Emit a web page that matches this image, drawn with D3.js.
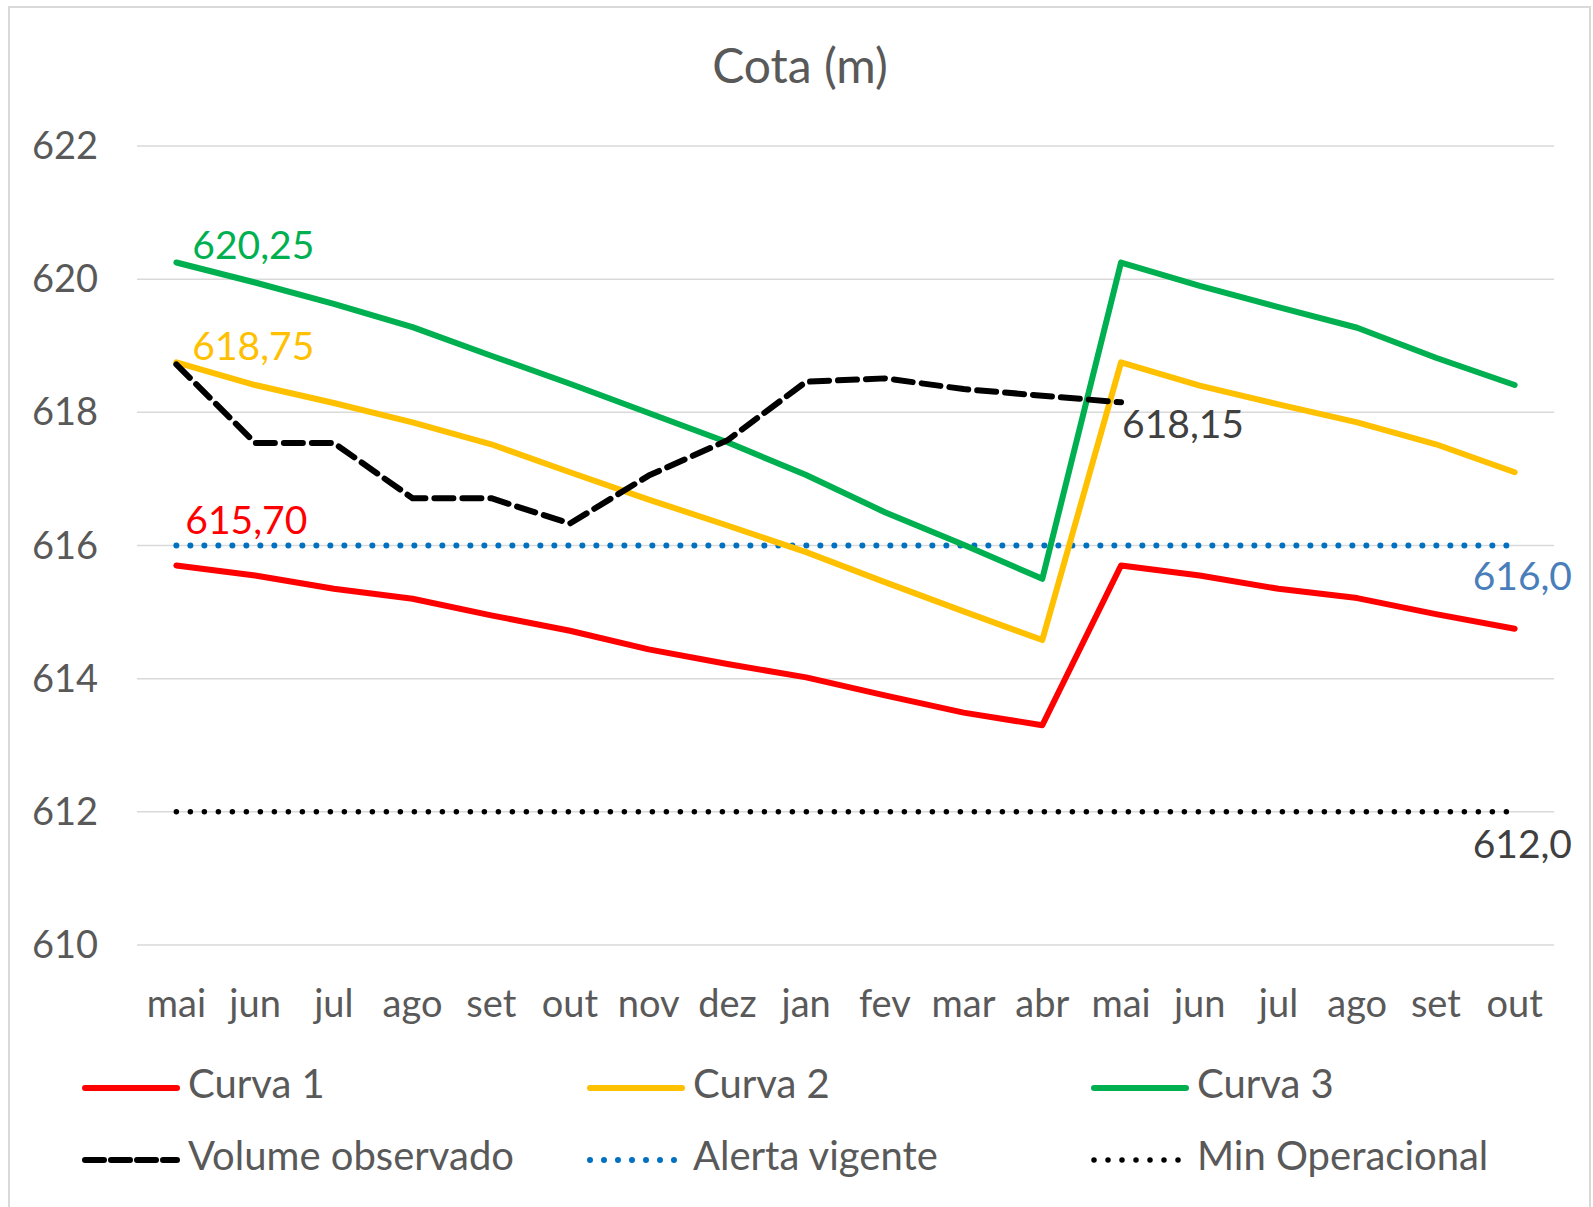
<!DOCTYPE html>
<html>
<head>
<meta charset="utf-8">
<script src="https://cdn.jsdelivr.net/npm/d3@7"></script>
<style>
  body { margin: 0; background: #fff; }
  svg { display: block; font-family: Lato, "Open Sans", sans-serif; }
</style>
</head>
<body>
<svg id="chart"></svg>
<script>
// dados
var meses = ["mai", "jun", "jul", "ago", "set", "out", "nov", "dez", "jan", "fev", "mar", "abr",
             "mai", "jun", "jul", "ago", "set", "out"];
var curva1 = [615.70, 615.55, 615.35, 615.20, 614.95, 614.72, 614.44, 614.22, 614.02, 613.75, 613.49, 613.30,
              615.70, 615.55, 615.35, 615.21, 614.97, 614.75];
var curva2 = [618.75, 618.41, 618.14, 617.85, 617.52, 617.10, 616.69, 616.30, 615.90, 615.45, 615.01, 614.58,
              618.75, 618.40, 618.12, 617.85, 617.52, 617.10];
var curva3 = [620.25, 619.95, 619.63, 619.28, 618.85, 618.43, 617.99, 617.55, 617.06, 616.50, 616.01, 615.50,
              620.25, 619.90, 619.58, 619.27, 618.82, 618.41];
var volume = [618.72, 617.54, 617.54, 616.71, 616.71, 616.33, 617.05, 617.58, 618.46, 618.51, 618.35, 618.25,
              618.15, null, null, null, null, null];
var alerta = meses.map(function () { return 616.0; });
var minOper = meses.map(function () { return 612.0; });
var yTicks = [610, 612, 614, 616, 618, 620, 622];

var width = 1593, height = 1207;
var svg = d3.select("#chart").attr("width", width).attr("height", height);

svg.append("rect")
  .attr("x", 9).attr("y", 7).attr("width", 1581).attr("height", 1205)
  .attr("fill", "#fff").attr("stroke", "#d9d9d9").attr("stroke-width", 2);

var x = d3.scaleBand().domain(d3.range(meses.length)).range([137, 1554]);
var y = d3.scaleLinear().domain([610, 622]).range([945, 146]);
var cx = function (i) { return x(i) + x.bandwidth() / 2; };

// título
svg.append("text")
  .attr("x", 800).attr("y", 71)
  .attr("text-anchor", "middle").attr("dominant-baseline", "middle")
  .attr("font-size", 48).attr("fill", "#595959")
  .text("Cota (m)");

// grade
svg.append("g")
  .selectAll("line").data(yTicks).enter().append("line")
  .attr("x1", 137).attr("x2", 1554)
  .attr("y1", function (d) { return y(d); })
  .attr("y2", function (d) { return y(d); })
  .attr("stroke", "#d9d9d9").attr("stroke-width", 1.5);

var yAxis = svg.append("g").attr("transform", "translate(98,0)")
  .call(d3.axisLeft(y).tickValues(yTicks).tickSize(0).tickPadding(0));
yAxis.select(".domain").remove();
yAxis.selectAll("text").attr("font-size", 38).attr("fill", "#595959")
  .attr("font-family", "Lato").attr("dy", "0.33em");

var xAxis = svg.append("g").attr("transform", "translate(0,1004)")
  .call(d3.axisBottom(x).tickFormat(function (i) { return meses[i]; }).tickSize(0).tickPadding(0));
xAxis.select(".domain").remove();
xAxis.selectAll("text").attr("font-size", 38).attr("fill", "#595959")
  .attr("font-family", "Lato").attr("dy", "0.35em");

var line = d3.line()
  .defined(function (d) { return d != null; })
  .x(function (d, i) { return cx(i); })
  .y(function (d) { return y(d); });

var series = [
  { nome: "Curva 1", dados: curva1, cor: "#ff0000", w: 6, dash: null },
  { nome: "Curva 2", dados: curva2, cor: "#ffc000", w: 6, dash: null },
  { nome: "Curva 3", dados: curva3, cor: "#00b050", w: 6, dash: null },
  { nome: "Volume observado", dados: volume, cor: "#000000", w: 6, dash: "19,9" },
  { nome: "Alerta vigente", dados: alerta, cor: "#0070c0", w: 6, dash: "0,14" },
  { nome: "Min Operacional", dados: minOper, cor: "#000000", w: 5.5, dash: "0,14" }
];

var desenho = [series[4], series[5], series[0], series[1], series[2], series[3]];
svg.append("g").selectAll("path").data(desenho).enter().append("path")
  .attr("d", function (s) { return line(s.dados); })
  .attr("fill", "none")
  .attr("stroke", function (s) { return s.cor; })
  .attr("stroke-width", function (s) { return s.w; })
  .attr("stroke-dasharray", function (s) { return s.dash; })
  .attr("stroke-linecap", "round")
  .attr("stroke-linejoin", "round");

// rótulos de dados
var fmt = function (v, n) { return v.toFixed(n).replace(".", ","); };
var rotulos = [
  { t: fmt(curva3[0], 2), x: cx(0) + 16, y: y(curva3[0]) - 13, cor: "#00b050", a: "start" },
  { t: fmt(curva2[0], 2), x: cx(0) + 16, y: y(curva2[0]) - 12, cor: "#ffc000", a: "start" },
  { t: fmt(curva1[0], 2), x: cx(0) + 9, y: y(curva1[0]) - 41, cor: "#ff0000", a: "start" },
  { t: fmt(volume[12], 2), x: cx(12) + 1, y: y(volume[12]) + 26, cor: "#404040", a: "start" },
  { t: fmt(alerta[17], 1), x: 1572, y: y(alerta[17]) + 35, cor: "#4a7ebb", a: "end" },
  { t: fmt(minOper[17], 1), x: 1572, y: y(minOper[17]) + 36, cor: "#404040", a: "end" }
];
svg.append("g").selectAll("text").data(rotulos).enter().append("text")
  .attr("x", function (d) { return d.x; })
  .attr("y", function (d) { return d.y; })
  .attr("text-anchor", function (d) { return d.a; })
  .attr("dominant-baseline", "middle")
  .attr("font-size", 39)
  .attr("fill", function (d) { return d.cor; })
  .text(function (d) { return d.t; });

// legenda
var colX = [82, 587, 1091];
var rowY = [1088, 1160];
var leg = svg.append("g").selectAll("g").data(series).enter().append("g")
  .attr("transform", function (s, i) { return "translate(" + colX[i % 3] + "," + rowY[Math.floor(i / 3)] + ")"; });
leg.append("line")
  .attr("x1", 3)
  .attr("x2", function (s) { return s.dash === "0,14" ? 88 : 95; })
  .attr("y1", 0).attr("y2", 0)
  .attr("stroke", function (s) { return s.cor; })
  .attr("stroke-width", function (s) { return s.w; })
  .attr("stroke-dasharray", function (s) { return s.dash === "19,9" ? "19,7" : s.dash; })
  .attr("stroke-linecap", "round");
leg.append("text")
  .attr("x", 106)
  .attr("y", 0)
  .attr("dominant-baseline", "middle")
  .attr("font-size", 40).attr("fill", "#595959")
  .text(function (s) { return s.nome; });
</script>
</body>
</html>
